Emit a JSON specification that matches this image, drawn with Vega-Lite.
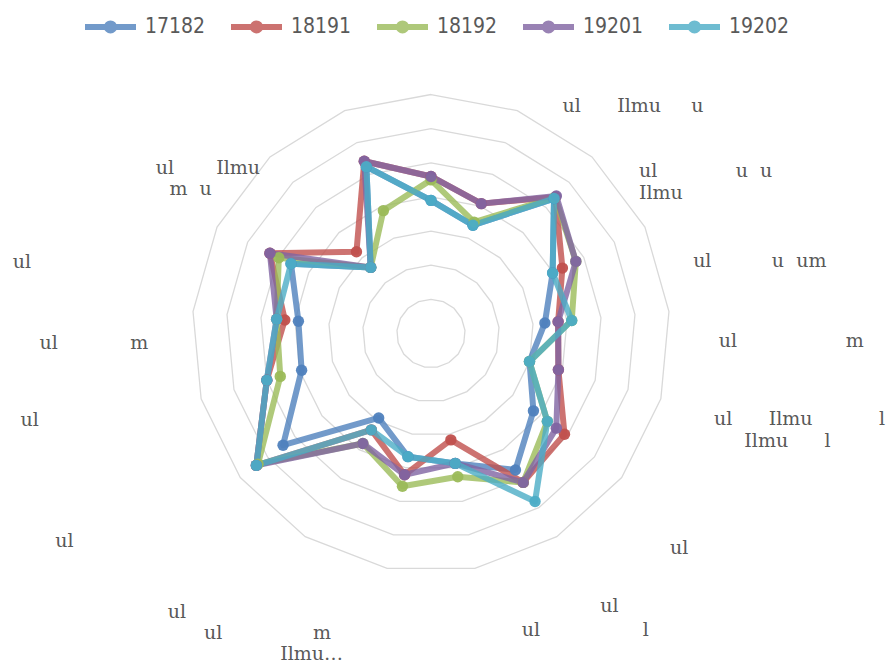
{
  "$schema": "https://vega.github.io/schema/vega-lite/v6.json",
  "width": 887,
  "height": 666,
  "autosize": {"type": "none"},
  "padding": 0,
  "background": "white",
  "config": {
    "view": {"stroke": null},
    "legend": {
      "orient": "none",
      "legendX": 82,
      "legendY": -2,
      "direction": "horizontal",
      "labelFont": "DejaVu Sans Condensed, Liberation Sans Narrow, sans-serif",
      "labelFontSize": 21,
      "labelColor": "#595959",
      "labelOffset": 6,
      "columnPadding": 13
    }
  },
  "datasets": {
    "series": [
      {"series": "17182", "axis": 0, "value": 3.9}, {"series": "17182", "axis": 1, "value": 3.4}, {"series": "17182", "axis": 2, "value": 5.35}, {"series": "17182", "axis": 3, "value": 3.98}, {"series": "17182", "axis": 4, "value": 3.35}, {"series": "17182", "axis": 5, "value": 3.0}, {"series": "17182", "axis": 6, "value": 3.76}, {"series": "17182", "axis": 7, "value": 4.7}, {"series": "17182", "axis": 8, "value": 3.87}, {"series": "17182", "axis": 9, "value": 3.67}, {"series": "17182", "axis": 10, "value": 2.91}, {"series": "17182", "axis": 11, "value": 5.43}, {"series": "17182", "axis": 12, "value": 3.94}, {"series": "17182", "axis": 13, "value": 3.9}, {"series": "17182", "axis": 14, "value": 4.58}, {"series": "17182", "axis": 15, "value": 2.62}, {"series": "17182", "axis": 16, "value": 5.24},
      {"series": "18191", "axis": 0, "value": 4.6}, {"series": "18191", "axis": 1, "value": 4.08}, {"series": "18191", "axis": 2, "value": 5.41}, {"series": "18191", "axis": 3, "value": 4.3}, {"series": "18191", "axis": 4, "value": 3.74}, {"series": "18191", "axis": 5, "value": 3.88}, {"series": "18191", "axis": 6, "value": 4.9}, {"series": "18191", "axis": 7, "value": 5.13}, {"series": "18191", "axis": 8, "value": 3.17}, {"series": "18191", "axis": 9, "value": 4.21}, {"series": "18191", "axis": 10, "value": 3.32}, {"series": "18191", "axis": 11, "value": 6.41}, {"series": "18191", "axis": 12, "value": 5.0}, {"series": "18191", "axis": 13, "value": 4.3}, {"series": "18191", "axis": 14, "value": 5.27}, {"series": "18191", "axis": 15, "value": 3.24}, {"series": "18191", "axis": 16, "value": 5.41},
      {"series": "18192", "axis": 0, "value": 4.5}, {"series": "18192", "axis": 1, "value": 3.5}, {"series": "18192", "axis": 2, "value": 5.4}, {"series": "18192", "axis": 3, "value": 4.74}, {"series": "18192", "axis": 4, "value": 4.14}, {"series": "18192", "axis": 5, "value": 3.0}, {"series": "18192", "axis": 6, "value": 4.27}, {"series": "18192", "axis": 7, "value": 5.13}, {"series": "18192", "axis": 8, "value": 4.27}, {"series": "18192", "axis": 9, "value": 4.55}, {"series": "18192", "axis": 10, "value": 3.79}, {"series": "18192", "axis": 11, "value": 6.35}, {"series": "18192", "axis": 12, "value": 4.59}, {"series": "18192", "axis": 13, "value": 4.54}, {"series": "18192", "axis": 14, "value": 4.98}, {"series": "18192", "axis": 15, "value": 2.62}, {"series": "18192", "axis": 16, "value": 3.86},
      {"series": "19201", "axis": 0, "value": 4.6}, {"series": "19201", "axis": 1, "value": 4.08}, {"series": "19201", "axis": 2, "value": 5.45}, {"series": "19201", "axis": 3, "value": 4.74}, {"series": "19201", "axis": 4, "value": 3.74}, {"series": "19201", "axis": 5, "value": 3.88}, {"series": "19201", "axis": 6, "value": 4.6}, {"series": "19201", "axis": 7, "value": 5.13}, {"series": "19201", "axis": 8, "value": 3.87}, {"series": "19201", "axis": 9, "value": 4.21}, {"series": "19201", "axis": 10, "value": 3.79}, {"series": "19201", "axis": 11, "value": 6.41}, {"series": "19201", "axis": 12, "value": 5.0}, {"series": "19201", "axis": 13, "value": 4.54}, {"series": "19201", "axis": 14, "value": 5.27}, {"series": "19201", "axis": 15, "value": 2.62}, {"series": "19201", "axis": 16, "value": 5.41},
      {"series": "19202", "axis": 0, "value": 3.9}, {"series": "19202", "axis": 1, "value": 3.4}, {"series": "19202", "axis": 2, "value": 5.35}, {"series": "19202", "axis": 3, "value": 3.98}, {"series": "19202", "axis": 4, "value": 4.14}, {"series": "19202", "axis": 5, "value": 3.0}, {"series": "19202", "axis": 6, "value": 4.27}, {"series": "19202", "axis": 7, "value": 5.79}, {"series": "19202", "axis": 8, "value": 3.87}, {"series": "19202", "axis": 9, "value": 3.67}, {"series": "19202", "axis": 10, "value": 3.32}, {"series": "19202", "axis": 11, "value": 6.41}, {"series": "19202", "axis": 12, "value": 5.0}, {"series": "19202", "axis": 13, "value": 4.54}, {"series": "19202", "axis": 14, "value": 4.58}, {"series": "19202", "axis": 15, "value": 2.62}, {"series": "19202", "axis": 16, "value": 5.24}
    ],
    "labels": [
      {"axis": 1, "label": "\u200b\u00a0\u200b\n\u200b\u00a0\u200b\nul\u00a0\u00a0\u00a0\u00a0\u00a0\u00a0Ilmu\u00a0\u00a0\u00a0\u00a0\u00a0u"},
      {"axis": 2, "label": "\u200b\u00a0\u200b\n\u200b\u00a0\u200b\nul\u00a0\u00a0\u00a0\u00a0\u00a0\u00a0\u00a0\u00a0\u00a0\u00a0\u00a0\u00a0\u00a0u\u00a0\u00a0u\nIlmu"},
      {"axis": 3, "label": "\u200b\u00a0\u200b\n\u200b\u00a0\u200b\n\u200b\u00a0ul\u00a0\u00a0\u00a0\u00a0\u00a0\u00a0\u00a0\u00a0\u00a0\u00a0u\u00a0\u00a0um"},
      {"axis": 4, "label": "\u200b\u00a0\u200b\n\u200b\u00a0\u00a0\u00a0ul\u00a0\u00a0\u00a0\u00a0\u00a0\u00a0\u00a0\u00a0\u00a0\u00a0\u00a0\u00a0\u00a0\u00a0\u00a0\u00a0\u00a0\u00a0m"},
      {"axis": 5, "label": "\u200b\u00a0\u00a0\u00a0\u00a0\u00a0\u00a0ul\u00a0\u00a0\u00a0\u00a0\u00a0\u00a0Ilmu\u00a0\u00a0\u00a0\u00a0\u00a0\u00a0\u00a0\u00a0\u00a0\u00a0\u00a0l\n\u200b\u00a0\u00a0\u00a0\u00a0\u00a0\u00a0\u00a0\u00a0\u00a0\u00a0\u00a0Ilmu\u00a0\u00a0\u00a0\u00a0\u00a0\u00a0l"},
      {"axis": 6, "label": "\u200b\u00a0\u200b\n\u200b\u00a0\u200b\n\u200b\u00a0\u00a0\u00a0\u00a0\u00a0\u00a0\u00a0\u00a0ul"},
      {"axis": 7, "label": "\u200b\u00a0\u200b\n\u200b\u00a0\u200b\n\u200b\u00a0\u00a0\u00a0\u00a0\u00a0\u00a0\u00a0\u00a0\u00a0\u00a0ul"},
      {"axis": 8, "label": "\u200b\u00a0\u200b\n\u200b\u00a0\u200b\n\u200b\u00a0\u00a0\u00a0\u00a0\u00a0\u00a0\u00a0\u00a0\u00a0\u00a0\u00a0\u00a0\u00a0ul\u00a0\u00a0\u00a0\u00a0\u00a0\u00a0\u00a0\u00a0\u00a0\u00a0\u00a0\u00a0\u00a0\u00a0\u00a0\u00a0\u00a0l"},
      {"axis": 9, "label": "\u200b\u00a0\u200b\n\u200b\u00a0\u200b\n\u200b\u00a0\u200b\nul\u00a0\u00a0\u00a0\u00a0\u00a0\u00a0\u00a0\u00a0\u00a0\u00a0\u00a0\u00a0\u00a0\u00a0\u00a0\u00a0\u00a0\u00a0\u00a0\u00a0\u00a0\u00a0\u00a0\u00a0\u00a0\u00a0\u00a0\u00a0\u00a0\u00a0\u200b\nul\u00a0\u00a0\u00a0\u00a0\u00a0\u00a0\u00a0\u00a0\u00a0\u00a0\u00a0\u00a0\u00a0\u00a0\u00a0m\u00a0\u00a0\u00a0\u00a0\u00a0\u00a0\u200b\nIlmu\u2026\u00a0\u00a0\u00a0\u00a0\u200b"},
      {"axis": 10, "label": "\u200b\u00a0\u200b\n\u200b\u00a0\u200b\nul\u00a0\u00a0\u00a0\u00a0\u00a0\u00a0\u00a0\u00a0\u00a0\u00a0\u00a0\u00a0\u00a0\u00a0\u00a0\u00a0\u00a0\u00a0\u00a0\u00a0\u00a0\u00a0\u00a0\u00a0\u00a0\u00a0\u00a0\u00a0\u00a0\u00a0\u00a0\u00a0\u00a0\u00a0\u00a0\u00a0\u00a0\u00a0\u200b"},
      {"axis": 11, "label": "ul\u00a0\u00a0\u00a0\u00a0\u00a0\u00a0\u00a0\u00a0\u00a0\u00a0\u00a0\u00a0\u00a0\u00a0\u00a0\u00a0\u00a0\u00a0\u00a0\u00a0\u00a0\u00a0\u00a0\u00a0\u00a0\u00a0\u00a0\u00a0\u00a0\u00a0\u00a0\u00a0\u00a0\u00a0\u00a0\u00a0\u200b"},
      {"axis": 12, "label": "\u200b\u00a0\u200b\nul\u00a0\u00a0\u00a0\u00a0\u00a0\u00a0\u00a0\u00a0\u00a0\u00a0\u00a0\u00a0m\u00a0\u00a0\u00a0\u00a0\u00a0\u00a0\u00a0\u00a0\u00a0\u00a0\u00a0\u00a0\u00a0\u00a0\u200b"},
      {"axis": 13, "label": "\u200b\u00a0\u200b\n\u200b\u00a0\u200b\nul\u00a0\u00a0\u00a0\u00a0\u00a0\u00a0\u00a0\u00a0\u00a0\u00a0\u00a0\u00a0\u00a0\u00a0\u00a0\u00a0\u00a0\u00a0\u00a0\u00a0\u00a0\u00a0\u00a0\u00a0\u00a0\u00a0\u00a0\u00a0\u00a0\u00a0\u00a0\u00a0\u00a0\u00a0\u200b"},
      {"axis": 14, "label": "\u200b\u00a0\u200b\n\u200b\u00a0\u200b\nul\u00a0\u00a0\u00a0\u00a0\u00a0\u00a0\u00a0Ilmu\u00a0\u200b\nm\u00a0\u00a0u\u00a0\u00a0\u00a0\u00a0\u00a0\u00a0\u00a0\u00a0\u00a0\u200b"}
    ]
  },
  "layer": [
    {
      "data": {"values": [
        {"level": 1, "axis": [0,1,2,3,4,5,6,7,8,9,10,11,12,13,14,15,16]},
        {"level": 2, "axis": [0,1,2,3,4,5,6,7,8,9,10,11,12,13,14,15,16]},
        {"level": 3, "axis": [0,1,2,3,4,5,6,7,8,9,10,11,12,13,14,15,16]},
        {"level": 4, "axis": [0,1,2,3,4,5,6,7,8,9,10,11,12,13,14,15,16]},
        {"level": 5, "axis": [0,1,2,3,4,5,6,7,8,9,10,11,12,13,14,15,16]},
        {"level": 6, "axis": [0,1,2,3,4,5,6,7,8,9,10,11,12,13,14,15,16]},
        {"level": 7, "axis": [0,1,2,3,4,5,6,7,8,9,10,11,12,13,14,15,16]}
      ]},
      "transform": [
        {"flatten": ["axis"]},
        {"calculate": "datum.axis * 2 * PI / 17", "as": "a"},
        {"calculate": "datum.level * sin(datum.a)", "as": "x"},
        {"calculate": "datum.level * cos(datum.a)", "as": "y"}
      ],
      "mark": {"type": "line", "interpolate": "linear-closed", "stroke": "#d9d9d9", "strokeWidth": 1.3},
      "encoding": {
        "x": {"field": "x", "type": "quantitative", "scale": {"domain": [-12.624, 13.357], "nice": false, "zero": false}, "axis": null},
        "y": {"field": "y", "type": "quantitative", "scale": {"domain": [-9.739, 9.769], "nice": false, "zero": false}, "axis": null},
        "detail": {"field": "level", "type": "nominal"},
        "order": {"field": "axis", "type": "quantitative"}
      }
    },
    {
      "data": {"name": "series"},
      "transform": [
        {"calculate": "datum.axis * 2 * PI / 17", "as": "a"},
        {"calculate": "datum.value * sin(datum.a)", "as": "x"},
        {"calculate": "datum.value * cos(datum.a)", "as": "y"}
      ],
      "layer": [
        {
          "mark": {"type": "line", "interpolate": "linear-closed", "strokeWidth": 6, "opacity": 0.8, "strokeJoin": "round"},
          "encoding": {
            "x": {"field": "x", "type": "quantitative", "axis": null},
            "y": {"field": "y", "type": "quantitative", "axis": null},
            "color": {
              "field": "series", "type": "nominal",
              "scale": {"domain": ["17182", "18191", "18192", "19201", "19202"], "range": ["#4F81BD", "#C0504D", "#9BBB59", "#8064A2", "#4BACC6"]},
              "legend": {
                "title": null,
                "symbolType": "M-1,0L1,0M-0.14,0A0.14,0.14,0,1,1,0.14,0A0.14,0.14,0,1,1,-0.14,0Z",
                "symbolSize": 2601,
                "symbolStrokeWidth": 6,
                "encode": {"symbols": {"update": {"fill": {"scale": "color", "field": "value"}, "stroke": {"scale": "color", "field": "value"}, "strokeWidth": {"value": 6}, "opacity": {"value": 1}}}}
              }
            },
            "order": {"field": "axis", "type": "quantitative"}
          }
        },
        {
          "mark": {"type": "point", "filled": true, "size": 130, "opacity": 0.95},
          "encoding": {
            "x": {"field": "x", "type": "quantitative", "axis": null},
            "y": {"field": "y", "type": "quantitative", "axis": null},
            "color": {
              "field": "series", "type": "nominal",
              "scale": {"domain": ["17182", "18191", "18192", "19201", "19202"], "range": ["#4F81BD", "#C0504D", "#9BBB59", "#8064A2", "#4BACC6"]},
              "legend": {
                "title": null,
                "symbolType": "M-1,0L1,0M-0.14,0A0.14,0.14,0,1,1,0.14,0A0.14,0.14,0,1,1,-0.14,0Z",
                "symbolSize": 2601,
                "symbolStrokeWidth": 6,
                "encode": {"symbols": {"update": {"fill": {"scale": "color", "field": "value"}, "stroke": {"scale": "color", "field": "value"}, "strokeWidth": {"value": 6}, "opacity": {"value": 1}}}}
              }
            }
          }
        }
      ]
    },
    {
      "data": {"name": "labels"},
      "transform": [
        {"filter": "datum.axis < 9"},
        {"calculate": "(datum.axis * 360 / 17 + 8) * PI / 180", "as": "a2"},
        {"calculate": "7.909 * sin(datum.a2)", "as": "lx"},
        {"calculate": "0.806 + 8.201 * cos(datum.a2)", "as": "ly"}
      ],
      "mark": {"type": "text", "align": "left", "baseline": "middle", "font": "DejaVu Serif", "fontSize": 19, "lineHeight": 22, "lineBreak": "\n", "color": "#595959"},
      "encoding": {
        "x": {"field": "lx", "type": "quantitative", "axis": null},
        "y": {"field": "ly", "type": "quantitative", "axis": null},
        "text": {"field": "label", "type": "nominal"}
      }
    },
    {
      "data": {"name": "labels"},
      "transform": [
        {"filter": "datum.axis >= 9"},
        {"calculate": "(datum.axis * 360 / 17 + 8) * PI / 180", "as": "a2"},
        {"calculate": "5.858 * sin(datum.a2)", "as": "lx"},
        {"calculate": "1.450 + 8.201 * cos(datum.a2)", "as": "ly"}
      ],
      "mark": {"type": "text", "align": "right", "baseline": "middle", "font": "DejaVu Serif", "fontSize": 19, "lineHeight": 21, "lineBreak": "\n", "color": "#595959"},
      "encoding": {
        "x": {"field": "lx", "type": "quantitative", "axis": null},
        "y": {"field": "ly", "type": "quantitative", "axis": null},
        "text": {"field": "label", "type": "nominal"}
      }
    }
  ]
}
